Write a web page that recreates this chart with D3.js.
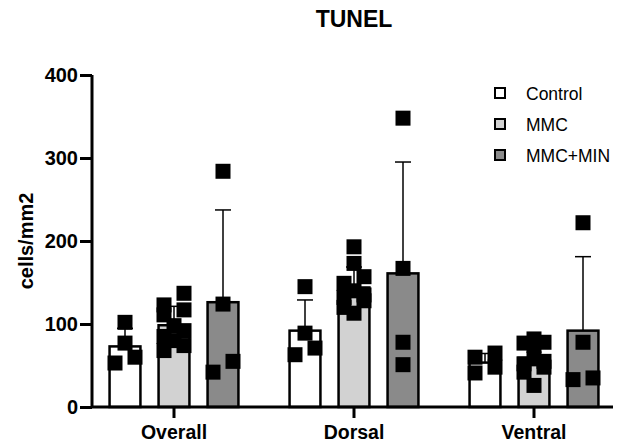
<!DOCTYPE html>
<html>
<head>
<meta charset="utf-8">
<script src="https://cdn.jsdelivr.net/npm/d3@7"></script>
<style>
  body { margin: 0; background: #fff; }
  svg { font-family: "Liberation Sans", Arial, sans-serif; }
</style>
</head>
<body>
<div id="chart"></div>
<script>
// data
const categories = ["Overall", "Dorsal", "Ventral"];
const series = ["Control", "MMC", "MMC+MIN"];
const controlPoints = [[102, 77, 60, 53], [145, 89, 71, 63], [65, 60, 48, 41]];
const mmcPoints = [
  [137, 123, 117, 111, 98, 92, 85, 80, 74, 68],
  [193, 173, 157, 149, 140, 135, 132, 128, 120, 113],
  [82, 78, 77, 74, 58, 55, 52, 48, 42, 26]
];
const minPoints = [[284, 124, 55, 42], [348, 167, 78, 51], [222, 78, 35, 33]];
const yTicks = [0, 100, 200, 300, 400];
const fills = ["#ffffff", "#d2d2d2", "#8a8a8a"];

const width = 622, height = 448;
const pointsBySeries = [controlPoints, mmcPoints, minPoints];

const svg = d3.select("#chart").append("svg")
  .attr("width", width)
  .attr("height", height);

// scales
const y = d3.scaleLinear().domain([0, 400]).range([407, 75]);
const x0 = d3.scaleBand().domain(categories).range([84, 624]);
const x1 = d3.scaleBand().domain(series).range([-73.5, 73.5])
  .paddingInner(0.37).paddingOuter(0.185);
const color = d3.scaleOrdinal().domain(series).range(fills);

// one row per bar
const rows = [];
categories.forEach((c, ci) => {
  series.forEach((s, si) => {
    const vals = pointsBySeries[si][ci];
    rows.push({ cat: c, ser: s, vals, mean: d3.mean(vals), sd: d3.deviation(vals) });
  });
});

// title
svg.append("text")
  .attr("x", 354).attr("y", 27)
  .attr("text-anchor", "middle")
  .style("font-size", "23px").style("font-weight", "bold")
  .text("TUNEL");

// y axis
const yAxis = svg.append("g")
  .attr("transform", "translate(92,0)")
  .call(d3.axisLeft(y).tickValues(yTicks).tickSize(12).tickPadding(2));
yAxis.select(".domain").attr("stroke-width", 3).attr("d", `M0,${y(400)}V${y(0)}`);
yAxis.selectAll(".tick line").attr("stroke-width", 3);
yAxis.selectAll(".tick text")
  .style("font-size", "20px").style("font-weight", "bold")
  .attr("fill", "#000");

svg.append("text")
  .attr("transform", `translate(33,${y(200)}) rotate(-90)`)
  .attr("text-anchor", "middle")
  .style("font-size", "20px").style("font-weight", "bold")
  .text("cells/mm2");

// bars
const groups = svg.selectAll("g.bar")
  .data(rows)
  .join("g")
  .attr("class", "bar")
  .attr("transform", d => `translate(${x0(d.cat) + x0.bandwidth() / 2 + x1(d.ser)},0)`);

groups.append("rect")
  .attr("x", 0)
  .attr("y", d => y(d.mean))
  .attr("width", x1.bandwidth())
  .attr("height", d => y(0) - y(d.mean))
  .attr("fill", d => color(d.ser))
  .attr("stroke", "#000")
  .attr("stroke-width", 2.5);

// error bars (mean + SD)
const bw = x1.bandwidth();
groups.append("line")
  .attr("x1", bw / 2).attr("x2", bw / 2)
  .attr("y1", d => y(d.mean)).attr("y2", d => y(d.mean + d.sd))
  .attr("stroke", "#000").attr("stroke-width", 1.5);
groups.append("line")
  .attr("x1", bw / 2 - 8).attr("x2", bw / 2 + 8)
  .attr("y1", d => y(d.mean + d.sd)).attr("y2", d => y(d.mean + d.sd))
  .attr("stroke", "#000").attr("stroke-width", 1.5);

// scatter points: points close in value share a row and are spread sideways
const size = 15;
function spread(vals) {
  const sorted = vals.slice().sort((a, b) => b - a);
  const bins = [];
  sorted.forEach(v => {
    const last = bins[bins.length - 1];
    if (last && last.length < 3 && Math.abs(y(v) - y(last[0])) < 12) last.push(v);
    else bins.push([v]);
  });
  const layouts = { 1: [0], 2: [10, -10], 3: [0, 10, -10] };
  const out = [];
  bins.forEach(b => b.forEach((v, i) => out.push({ v, py: y(v), dx: layouts[b.length][i] })));
  return out;
}

groups.selectAll("rect.pt")
  .data(d => spread(d.vals))
  .join("rect")
  .attr("class", "pt")
  .attr("x", p => bw / 2 + p.dx - size / 2)
  .attr("y", p => p.py - size / 2)
  .attr("width", size)
  .attr("height", size)
  .attr("fill", "#000");

// x axis
const xAxis = svg.append("g")
  .attr("transform", `translate(0,${y(0)})`)
  .call(d3.axisBottom(x0).tickSize(11).tickPadding(7));
xAxis.select(".domain").attr("stroke-width", 3).attr("d", "M92,0H613");
xAxis.selectAll(".tick line").attr("stroke-width", 3);
xAxis.selectAll(".tick text")
  .style("font-size", "19.5px").style("font-weight", "bold")
  .attr("fill", "#000");

// legend
const legend = svg.append("g").attr("transform", "translate(494,87)");
const li = legend.selectAll("g")
  .data(series)
  .join("g")
  .attr("transform", (d, i) => `translate(0,${i * 31})`);
li.append("rect")
  .attr("x", 1).attr("y", 1)
  .attr("width", 10).attr("height", 10)
  .attr("fill", d => color(d))
  .attr("stroke", "#000").attr("stroke-width", 2);
li.append("text")
  .attr("x", 32).attr("y", 12.5)
  .style("font-size", "17.5px")
  .text(d => d);
</script>
</body>
</html>
